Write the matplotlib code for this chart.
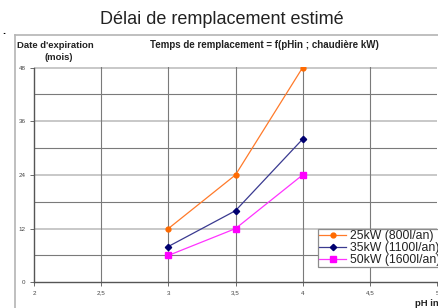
import matplotlib
matplotlib.use("Agg")
import matplotlib.pyplot as plt
from matplotlib.lines import Line2D

plt.rcParams['font.family'] = ['Liberation Sans', 'DejaVu Sans']

ph = [3, 3.5, 4]
s25 = [12, 24, 48]
s35 = [8, 16, 32]
s50 = [6, 12, 24]
labels = ["25kW (800l/an)", "35kW (1100l/an)", "50kW (1600l/an)"]
xticks = [2, 2.5, 3, 3.5, 4, 4.5, 5]
xticklabels = ["2", "2,5", "3", "3,5", "4", "4,5", "5"]
yticks = [0, 12, 24, 36, 48]

W, H = 438, 308
fig = plt.figure(figsize=(W/100, H/100), dpi=100)

def fx(px):
    return px / W

def fy(py):
    return 1 - py / H

# chart border
fig.add_artist(Line2D([fx(14.5), fx(14.5)], [fy(35), 0], color='#b4b4b4', lw=1.2))
fig.add_artist(Line2D([fx(14.5), 1], [fy(35), fy(35)], color='#b4b4b4', lw=1.2))
fig.text(fx(2), fy(31), ".", fontsize=8, color='black', ha='left', va='center', fontweight='bold')

ax = fig.add_axes([fx(34), fy(282.3), fx(437) - fx(34), fy(67.5) - fy(282.3)])
ax.set_xlim(2, 5)
ax.set_ylim(0, 48)

# gridlines
for y in [6, 18, 30, 42]:
    ax.axhline(y, color='#7a7a7a', lw=0.8, zorder=1)
for y in [12, 24, 36, 48]:
    ax.axhline(y, color='#c4c4c4', lw=1.3, zorder=1)
for x in [2.5, 3, 3.5, 4, 4.5]:
    ax.axvline(x, color='#7a7a7a', lw=0.8, zorder=1)

ax.plot(ph, s25, color='#ff7a2a', lw=0.9, marker='o', ms=3.5, mfc='#ff6a00', mec='#ff6a00', label=labels[0], zorder=3)
ax.plot(ph, s35, color='#3a3a90', lw=0.9, marker='D', ms=3.2, mfc='#000070', mec='#000070', label=labels[1], zorder=3)
ax.plot(ph, s50, color='#ff33ff', lw=0.9, marker='s', ms=4, mfc='#ff00ff', mec='#ff00ff', label=labels[2], zorder=3)

ax.set_xticks(xticks)
ax.set_xticklabels(xticklabels)
ax.set_yticks(yticks)
ax.tick_params(axis='both', labelsize=4.5, labelcolor='#444444', color='#555555', length=3, width=0.6, pad=3)
for s in ['top', 'right']:
    ax.spines[s].set_visible(False)
ax.spines['left'].set_color('#555555')
ax.spines['bottom'].set_color('#555555')
ax.spines['left'].set_linewidth(1.0)
ax.spines['bottom'].set_linewidth(1.0)
ax.set_facecolor('white')

leg = ax.legend(loc='upper left', bbox_to_anchor=(fx(318), fy(228.5)), bbox_transform=fig.transFigure,
                fontsize=8.8, frameon=True, fancybox=False, framealpha=1, edgecolor='#8c8c8c',
                borderpad=0.12, labelspacing=0.0, handlelength=2.2, handletextpad=0.3, borderaxespad=0)
leg.get_frame().set_linewidth(0.9)
leg.set_zorder(5)
for t in leg.get_texts():
    t.set_color('#222222')

fig.text(fx(222), fy(20), "Délai de remplacement estimé", fontsize=13, ha='center', va='center', color='#222222')
fig.text(fx(17), fy(45), "Date d'expiration", fontsize=6.8, fontweight='bold', ha='left', va='center', color='#222222')
fig.text(fx(59), fy(58), "(mois)", fontsize=6.8, fontweight='bold', ha='center', va='center', color='#222222')
fig.text(fx(150), fy(45), "Temps de remplacement = f(pHin ; chaudière kW)", fontsize=7, fontweight='bold', ha='left', va='center', color='#222222')
fig.text(fx(415), fy(303.5), "pH in", fontsize=6.8, fontweight='bold', ha='left', va='center', color='#222222')

fig.savefig("out.png", dpi=100)
